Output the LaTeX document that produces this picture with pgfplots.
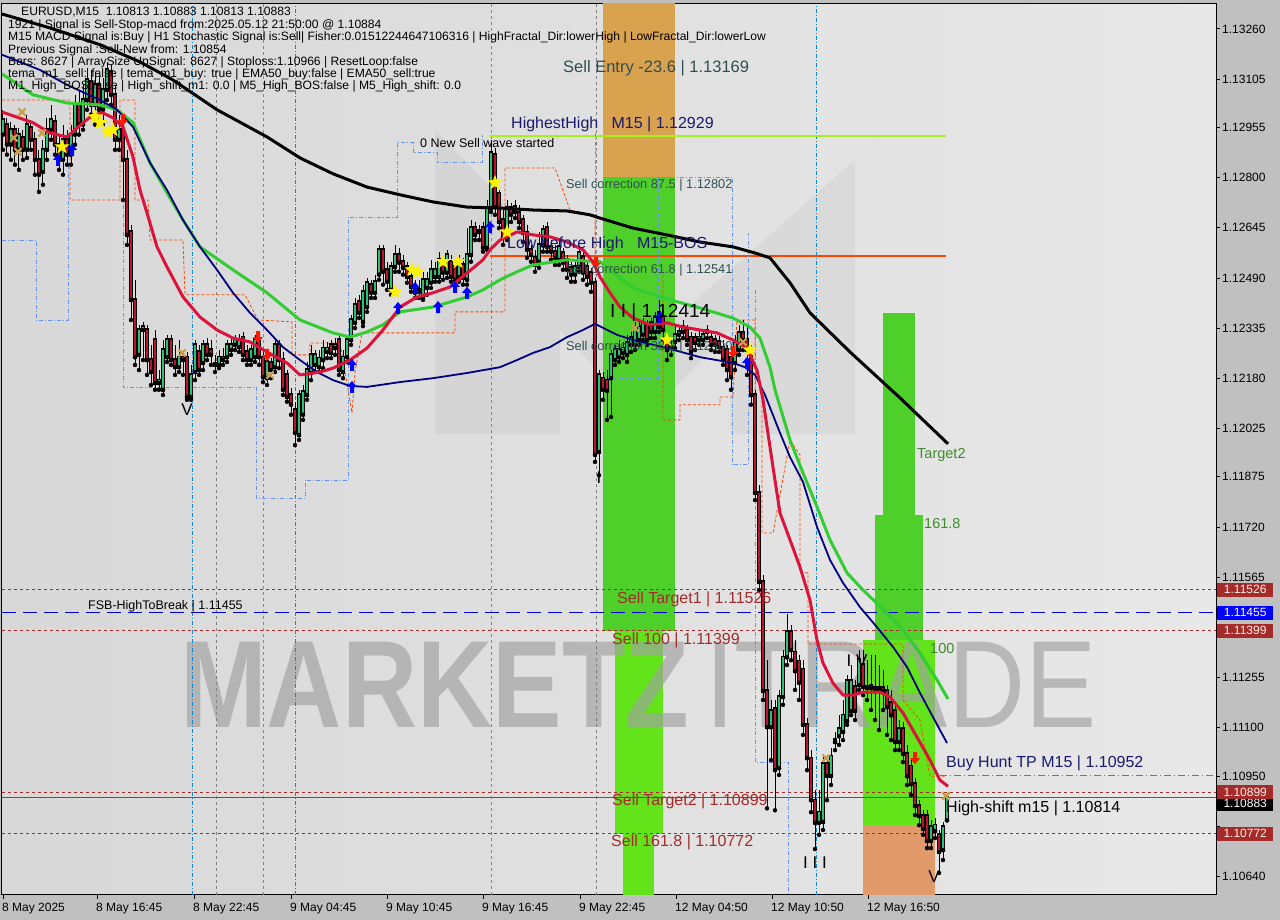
\documentclass[border=0pt]{standalone}
\usepackage{pgfplots}
\pgfplotsset{compat=1.18}
\usepackage{pgfplotstable}
\usepackage{fontspec}
\setmainfont{Liberation Sans}

\definecolor{panel}{HTML}{C0C0C0}
\definecolor{bgl}{HTML}{D8D8D8}
\definecolor{bgr}{HTML}{E8E8E8}
\definecolor{cgreen}{HTML}{2FBF71}
\definecolor{cred}{HTML}{B5172F}
\definecolor{emared}{HTML}{DC143C}
\definecolor{emagreen}{HTML}{32CD32}
\definecolor{emanavy}{HTML}{000080}
\definecolor{zgreen}{HTML}{4FCF2A}
\definecolor{zlime}{HTML}{62E31A}
\definecolor{zorange}{HTML}{D9A24E}
\definecolor{zsalmon}{HTML}{E39A6A}
\definecolor{lvl}{HTML}{A52A2A}
\definecolor{stepblue}{HTML}{6495ED}
\definecolor{steporange}{HTML}{FF4500}
\definecolor{hhigh}{HTML}{A6F01E}
\definecolor{slate}{HTML}{2F4F4F}
\definecolor{midnight}{HTML}{191970}
\definecolor{tgreen}{HTML}{3C8C28}
\definecolor{tanx}{HTML}{C8A04A}
\definecolor{wm}{HTML}{A0A0A0}

\newcommand{\fs}[1]{\fontsize{#1}{#1}\selectfont}

\pgfdeclareplotmark{fstar}{%
  \pgfpathmoveto{\pgfqpoint{0pt}{8pt}}%
  \pgfpathlineto{\pgfqpoint{-1.94pt}{2.67pt}}%
  \pgfpathlineto{\pgfqpoint{-7.61pt}{2.47pt}}%
  \pgfpathlineto{\pgfqpoint{-3.14pt}{-1.02pt}}%
  \pgfpathlineto{\pgfqpoint{-4.70pt}{-6.47pt}}%
  \pgfpathlineto{\pgfqpoint{0pt}{-3.3pt}}%
  \pgfpathlineto{\pgfqpoint{4.70pt}{-6.47pt}}%
  \pgfpathlineto{\pgfqpoint{3.14pt}{-1.02pt}}%
  \pgfpathlineto{\pgfqpoint{7.61pt}{2.47pt}}%
  \pgfpathlineto{\pgfqpoint{1.94pt}{2.67pt}}%
  \pgfpathclose\pgfusepathqfill}
\pgfdeclareplotmark{uparr}{%
  \pgfpathmoveto{\pgfqpoint{0pt}{6pt}}%
  \pgfpathlineto{\pgfqpoint{5pt}{0pt}}%
  \pgfpathlineto{\pgfqpoint{2pt}{0pt}}%
  \pgfpathlineto{\pgfqpoint{2pt}{-6pt}}%
  \pgfpathlineto{\pgfqpoint{-2pt}{-6pt}}%
  \pgfpathlineto{\pgfqpoint{-2pt}{0pt}}%
  \pgfpathlineto{\pgfqpoint{-5pt}{0pt}}%
  \pgfpathclose\pgfusepathqfill}
\pgfdeclareplotmark{dnarr}{%
  \pgfpathmoveto{\pgfqpoint{0pt}{-6pt}}%
  \pgfpathlineto{\pgfqpoint{5pt}{0pt}}%
  \pgfpathlineto{\pgfqpoint{2pt}{0pt}}%
  \pgfpathlineto{\pgfqpoint{2pt}{6pt}}%
  \pgfpathlineto{\pgfqpoint{-2pt}{6pt}}%
  \pgfpathlineto{\pgfqpoint{-2pt}{0pt}}%
  \pgfpathlineto{\pgfqpoint{-5pt}{0pt}}%
  \pgfpathclose\pgfusepathqfill}

\tikzset{tag/.style={anchor=west, inner sep=0pt, minimum width=56pt, minimum height=14pt, font=\fs{12}}}
\pgfplotsset{stepb/.style={color=stepblue, dash pattern=on 4pt off 2pt on 1pt off 2pt, line width=0.8pt},
             stepo/.style={color=steporange, dash pattern=on 3pt off 2pt, line width=0.8pt}}

% M15 candles: x = pixel column, open high low close
\pgfplotstableread{
x o h l c
3 1.12933 1.13010 1.12886 1.12979
7 1.12964 1.12985 1.12871 1.12902
11 1.12902 1.12973 1.12855 1.12948
15 1.12948 1.12964 1.12840 1.12886
19 1.12886 1.12954 1.12824 1.12933
23 1.12923 1.12948 1.12855 1.12886
27 1.12886 1.12995 1.12861 1.12964
31 1.12954 1.12979 1.12886 1.12917
35 1.12917 1.12942 1.12809 1.12855
39 1.12855 1.12886 1.12756 1.12809
43 1.12818 1.12917 1.12778 1.12886
47 1.12886 1.12985 1.12855 1.12948
51 1.12948 1.13025 1.12917 1.12979
55 1.12973 1.12995 1.12871 1.12902
59 1.12902 1.12933 1.12824 1.12855
63 1.12855 1.12964 1.12809 1.12917
67 1.12917 1.12948 1.12840 1.12871
71 1.12871 1.12964 1.12840 1.12933
75 1.12933 1.13056 1.12902 1.13025
79 1.13025 1.13071 1.12933 1.12964
83 1.12964 1.13087 1.12948 1.13040
87 1.13040 1.13139 1.13010 1.13102
91 1.13096 1.13133 1.12995 1.13025
95 1.13025 1.13127 1.12964 1.13087
99 1.13087 1.13118 1.12979 1.13010
103 1.13010 1.13108 1.12964 1.13071
107 1.13071 1.13158 1.13040 1.13133
111 1.13127 1.13149 1.13025 1.13056
115 1.13056 1.13087 1.12886 1.12917
119 1.12917 1.12995 1.12886 1.12948
123 1.12948 1.12979 1.12731 1.12855
127 1.12855 1.12886 1.12592 1.12623
131 1.12632 1.12654 1.12360 1.12422
135 1.12422 1.12484 1.12221 1.12245
139 1.12252 1.12345 1.12205 1.12329
143 1.12329 1.12354 1.12236 1.12338
147 1.12329 1.12345 1.12190 1.12236
151 1.12236 1.12283 1.12159 1.12199
155 1.12298 1.12329 1.12144 1.12165
159 1.12165 1.12205 1.12144 1.12174
163 1.12144 1.12298 1.12128 1.12267
167 1.12245 1.12314 1.12230 1.12298
171 1.12298 1.12314 1.12221 1.12236
175 1.12236 1.12283 1.12190 1.12214
179 1.12214 1.12298 1.12199 1.12245
183 1.12245 1.12267 1.12190 1.12236
187 1.12245 1.12261 1.12113 1.12122
191 1.12122 1.12221 1.12113 1.12190
195 1.12199 1.12298 1.12174 1.12283
199 1.12261 1.12283 1.12190 1.12205
203 1.12227 1.12298 1.12205 1.12283
207 1.12283 1.12304 1.12236 1.12252
211 1.12267 1.12298 1.12221 1.12252
215 1.12221 1.12252 1.12199 1.12224
219 1.12221 1.12267 1.12211 1.12245
223 1.12245 1.12273 1.12221 1.12236
227 1.12245 1.12298 1.12230 1.12283
231 1.12267 1.12304 1.12252 1.12283
235 1.12283 1.12314 1.12267 1.12298
239 1.12276 1.12317 1.12261 1.12298
243 1.12307 1.12323 1.12236 1.12252
247 1.12261 1.12283 1.12221 1.12236
251 1.12236 1.12283 1.12221 1.12267
255 1.12245 1.12314 1.12230 1.12298
259 1.12298 1.12314 1.12221 1.12245
263 1.12245 1.12267 1.12168 1.12183
267 1.12180 1.12252 1.12159 1.12230
271 1.12227 1.12242 1.12180 1.12205
275 1.12214 1.12298 1.12199 1.12283
279 1.12283 1.12298 1.12211 1.12236
283 1.12236 1.12261 1.12128 1.12144
287 1.12190 1.12205 1.12107 1.12122
291 1.12128 1.12150 1.12067 1.12098
295 1.12082 1.12107 1.11973 1.12011
299 1.12004 1.12144 1.11989 1.12128
303 1.12067 1.12159 1.12051 1.12138
307 1.12128 1.12230 1.12113 1.12205
311 1.12196 1.12283 1.12174 1.12252
315 1.12221 1.12267 1.12199 1.12252
319 1.12214 1.12267 1.12199 1.12242
323 1.12236 1.12298 1.12211 1.12273
327 1.12261 1.12292 1.12242 1.12273
331 1.12283 1.12298 1.12242 1.12258
335 1.12273 1.12304 1.12252 1.12283
339 1.12298 1.12314 1.12190 1.12205
343 1.12199 1.12267 1.12180 1.12245
347 1.12245 1.12314 1.12230 1.12298
351 1.12298 1.12376 1.12283 1.12360
355 1.12351 1.12428 1.12335 1.12407
359 1.12416 1.12437 1.12366 1.12382
363 1.12354 1.12469 1.12341 1.12447
367 1.12400 1.12490 1.12385 1.12475
371 1.12469 1.12484 1.12428 1.12444
375 1.12444 1.12500 1.12428 1.12478
379 1.12500 1.12592 1.12484 1.12577
383 1.12577 1.12592 1.12469 1.12509
387 1.12515 1.12540 1.12453 1.12478
391 1.12453 1.12540 1.12438 1.12524
395 1.12524 1.12592 1.12509 1.12561
399 1.12561 1.12583 1.12509 1.12537
403 1.12540 1.12561 1.12500 1.12521
407 1.12524 1.12540 1.12475 1.12493
411 1.12493 1.12515 1.12447 1.12462
415 1.12462 1.12484 1.12428 1.12444
419 1.12447 1.12484 1.12428 1.12453
423 1.12431 1.12509 1.12422 1.12484
427 1.12459 1.12509 1.12438 1.12484
431 1.12475 1.12546 1.12459 1.12515
435 1.12493 1.12540 1.12478 1.12515
439 1.12493 1.12571 1.12478 1.12546
443 1.12540 1.12552 1.12484 1.12506
447 1.12506 1.12577 1.12490 1.12561
451 1.12540 1.12561 1.12478 1.12493
455 1.12524 1.12540 1.12469 1.12484
459 1.12493 1.12561 1.12478 1.12540
463 1.12530 1.12552 1.12469 1.12490
467 1.12484 1.12645 1.12469 1.12561
471 1.12561 1.12669 1.12540 1.12645
475 1.12645 1.12663 1.12607 1.12623
479 1.12632 1.12654 1.12607 1.12635
483 1.12645 1.12663 1.12571 1.12583
487 1.12583 1.12731 1.12577 1.12706
491 1.12706 1.12917 1.12694 1.12877
495 1.12871 1.12892 1.12685 1.12709
499 1.12752 1.12762 1.12644 1.12663
503 1.12669 1.12700 1.12592 1.12616
507 1.12629 1.12731 1.12607 1.12706
511 1.12706 1.12722 1.12663 1.12685
515 1.12694 1.12731 1.12675 1.12709
519 1.12691 1.12716 1.12644 1.12663
523 1.12669 1.12685 1.12601 1.12629
527 1.12629 1.12654 1.12552 1.12577
531 1.12577 1.12592 1.12540 1.12561
535 1.12552 1.12577 1.12509 1.12530
539 1.12540 1.12632 1.12521 1.12592
543 1.12592 1.12654 1.12571 1.12638
547 1.12645 1.12663 1.12571 1.12586
551 1.12586 1.12607 1.12546 1.12571
555 1.12571 1.12592 1.12530 1.12552
559 1.12546 1.12607 1.12530 1.12586
563 1.12568 1.12583 1.12515 1.12537
567 1.12546 1.12561 1.12490 1.12515
571 1.12521 1.12540 1.12478 1.12500
575 1.12500 1.12546 1.12478 1.12524
579 1.12524 1.12583 1.12509 1.12568
583 1.12555 1.12577 1.12484 1.12506
587 1.12524 1.12540 1.12469 1.12493
591 1.12506 1.12521 1.12447 1.12475
595 1.12475 1.12490 1.11921 1.11943
599 1.11952 1.12205 1.11880 1.12190
603 1.12180 1.12199 1.12113 1.12144
607 1.12174 1.12205 1.12051 1.12141
611 1.12180 1.12267 1.12060 1.12252
615 1.12236 1.12283 1.12221 1.12267
619 1.12245 1.12298 1.12230 1.12267
623 1.12258 1.12292 1.12242 1.12273
627 1.12252 1.12314 1.12230 1.12289
631 1.12283 1.12329 1.12261 1.12304
635 1.12283 1.12354 1.12267 1.12329
639 1.12298 1.12360 1.12283 1.12338
643 1.12314 1.12366 1.12298 1.12351
647 1.12345 1.12360 1.12283 1.12298
651 1.12351 1.12366 1.12304 1.12323
655 1.12323 1.12385 1.12304 1.12366
659 1.12338 1.12422 1.12323 1.12382
663 1.12369 1.12391 1.12298 1.12329
667 1.12292 1.12314 1.12236 1.12267
671 1.12276 1.12298 1.12252 1.12279
675 1.12292 1.12345 1.12273 1.12314
679 1.12314 1.12345 1.12298 1.12323
683 1.12323 1.12360 1.12304 1.12338
687 1.12329 1.12345 1.12283 1.12298
691 1.12307 1.12323 1.12242 1.12261
695 1.12304 1.12320 1.12267 1.12289
699 1.12298 1.12329 1.12283 1.12307
703 1.12298 1.12329 1.12283 1.12314
707 1.12323 1.12345 1.12304 1.12326
711 1.12304 1.12323 1.12267 1.12283
715 1.12298 1.12314 1.12261 1.12283
719 1.12292 1.12311 1.12261 1.12276
723 1.12276 1.12298 1.12221 1.12236
727 1.12267 1.12283 1.12174 1.12205
731 1.12245 1.12267 1.12144 1.12183
735 1.12227 1.12314 1.12205 1.12289
739 1.12267 1.12345 1.12252 1.12320
743 1.12320 1.12360 1.12267 1.12298
747 1.12298 1.12345 1.12190 1.12267
751 1.12252 1.12283 1.12098 1.12128
755 1.12128 1.12144 1.11803 1.11825
759 1.11825 1.11849 1.11525 1.11550
763 1.11550 1.11572 1.11185 1.11213
767 1.11213 1.11308 1.10850 1.11101
771 1.11101 1.11185 1.10999 1.11151
775 1.11157 1.11185 1.10844 1.10968
779 1.10974 1.11216 1.10953 1.11194
783 1.11194 1.11339 1.11170 1.11317
787 1.11317 1.11451 1.11293 1.11395
791 1.11395 1.11417 1.11308 1.11339
795 1.11333 1.11370 1.11216 1.11274
799 1.11305 1.11324 1.11185 1.11238
803 1.11280 1.11308 1.11077 1.11108
807 1.11108 1.11129 1.10968 1.11005
811 1.11005 1.11030 1.10838 1.10875
815 1.10875 1.10906 1.10724 1.10805
819 1.10805 1.10906 1.10768 1.10838
823 1.10808 1.11015 1.10783 1.10987
827 1.10987 1.11015 1.10875 1.10950
831 1.10950 1.11036 1.10922 1.11011
835 1.11055 1.11086 1.11030 1.11061
839 1.11073 1.11138 1.11046 1.11095
843 1.11086 1.11185 1.11061 1.11138
847 1.11120 1.11262 1.11108 1.11244
851 1.11151 1.11293 1.11138 1.11244
855 1.11225 1.11247 1.11123 1.11151
859 1.11231 1.11339 1.11216 1.11311
863 1.11293 1.11339 1.11200 1.11225
867 1.11225 1.11308 1.11185 1.11222
871 1.11222 1.11324 1.11154 1.11228
875 1.11222 1.11324 1.11123 1.11216
879 1.11216 1.11293 1.11092 1.11222
883 1.11222 1.11277 1.11154 1.11213
887 1.11213 1.11231 1.11077 1.11163
891 1.11176 1.11216 1.11061 1.11138
895 1.11151 1.11169 1.11030 1.11055
899 1.11055 1.11123 1.11030 1.11095
903 1.11095 1.11117 1.10993 1.11018
907 1.11018 1.11046 1.10922 1.10949
911 1.10980 1.10999 1.10891 1.10925
915 1.10925 1.10943 1.10829 1.10857
919 1.10857 1.10875 1.10798 1.10826
923 1.10826 1.10844 1.10768 1.10786
927 1.10826 1.10844 1.10727 1.10749
931 1.10749 1.10814 1.10727 1.10792
935 1.10780 1.10820 1.10758 1.10798
939 1.10768 1.10783 1.10650 1.10715
943 1.10721 1.10808 1.10690 1.10792
947 1.10813 1.10883 1.10813 1.10883
}\candles

\begin{document}
\begin{tikzpicture}
\useasboundingbox (0,0) rectangle (1280pt,920pt);
\fill[panel] (0,0) rectangle (1280pt,920pt);
\begin{axis}[
  at={(2pt,25pt)}, anchor=south west,
  scale only axis, width=1214pt, height=891pt,
  xmin=2, xmax=1216, ymin=1.10582, ymax=1.13337,
  clip mode=individual,
  axis background/.style={left color=bgl, right color=bgr},
  axis line style={black, line width=1pt},
  xtick pos=left, ytick pos=right, tick align=outside,
  major tick length=4pt, tick style={black, line width=0.8pt},
  xtick={3,97,194,291,387,483,580,676,772,868},
  xticklabels={8 May 2025,8 May 16:45,8 May 22:45,9 May 04:45,9 May 10:45,9 May 16:45,9 May 22:45,12 May 04:50,12 May 10:50,12 May 16:50},
  ytick={1.10640,1.10795,1.10950,1.11100,1.11255,1.11410,1.11565,1.11720,1.11875,1.12025,1.12180,1.12335,1.12490,1.12645,1.12800,1.12955,1.13105,1.13260},
  yticklabels={1.10640,,1.10950,1.11100,1.11255,,1.11565,1.11720,1.11875,1.12025,1.12180,1.12335,1.12490,1.12645,1.12800,1.12955,1.13105,1.13260},
  ticklabel style={font=\fs{12}, text=black},
  xticklabel style={anchor=north west, inner sep=0pt, yshift=-4pt, xshift=-1pt},
  yticklabel style={anchor=west, inner sep=0pt, xshift=2pt},
]
% faint logo behind the price
\addplot[fill=black, fill opacity=0.04, draw=none] coordinates {(435,1.12007) (435,1.12948) (645,1.12283) (855,1.12855) (855,1.12007) (730,1.12007) (730,1.12329) (645,1.12051) (560,1.12329) (560,1.12007)} -- cycle;

% signal zones
\addplot[fill=zorange, draw=none] coordinates {(603,1.12802) (675,1.12802) (675,1.13340) (603,1.13340)} -- cycle;
\addplot[fill=zgreen, draw=none] coordinates {(603,1.11399) (675,1.11399) (675,1.12802) (603,1.12802)} -- cycle;
\addplot[fill=zlime, draw=none] coordinates {(615,1.10772) (663,1.10772) (663,1.11399) (615,1.11399)} -- cycle;
\addplot[fill=zlime, draw=none] coordinates {(623,1.10582) (654,1.10582) (654,1.10772) (623,1.10772)} -- cycle;
\addplot[fill=zgreen, draw=none] coordinates {(883,1.11757) (915,1.11757) (915,1.12382) (883,1.12382)} -- cycle;
\addplot[fill=zgreen, draw=none] coordinates {(875,1.11370) (923,1.11370) (923,1.11757) (875,1.11757)} -- cycle;
\addplot[fill=zlime, draw=none] coordinates {(863,1.10798) (935,1.10798) (935,1.11370) (863,1.11370)} -- cycle;
\addplot[fill=zsalmon, draw=none] coordinates {(863,1.10582) (935,1.10582) (935,1.10798) (863,1.10798)} -- cycle;

% watermark
\node[anchor=base west, inner sep=0pt, font=\fs{124}\bfseries, text=wm, opacity=0.65, xscale=0.84] at (axis cs:180,1.11101) {MARKETZ};
\node[anchor=base west, inner sep=0pt, font=\fs{124}, text=wm, opacity=0.65, xscale=0.86] at (axis cs:705,1.11101) {ITRADE};

% period separators
\addplot[color=cyan!70!blue, dash pattern=on 4pt off 2pt on 1pt off 2pt, line width=0.8pt] coordinates {(192,1.10582) (192,1.13337)};
\addplot[color=cyan!70!blue, dash pattern=on 4pt off 2pt on 1pt off 2pt, line width=0.8pt] coordinates {(295,1.10582) (295,1.13337)};
\addplot[color=cyan!70!blue, dash pattern=on 4pt off 2pt on 1pt off 2pt, line width=0.8pt] coordinates {(816,1.10582) (816,1.13337)};
\addplot[color=gray, dash pattern=on 3pt off 3pt, line width=0.8pt] coordinates {(216,1.10582) (216,1.13337)};
\addplot[color=gray, dash pattern=on 3pt off 3pt, line width=0.8pt] coordinates {(596,1.10582) (596,1.13337)};
\addplot[color=magenta!60!red!70, dash pattern=on 3pt off 3pt, line width=0.8pt] coordinates {(263,1.10582) (263,1.13337)};
\addplot[color=magenta!60!red!70, dash pattern=on 3pt off 3pt, line width=0.8pt] coordinates {(491,1.10582) (491,1.13337)};

% horizontal levels
\addplot[draw=hhigh, line width=1.5pt] coordinates {(490,1.12929) (946,1.12929)};
\addplot[draw=steporange, line width=1.4pt] coordinates {(490,1.12558) (946,1.12558)};
\addplot[draw=lvl, dash pattern=on 3pt off 3pt, line width=0.9pt] coordinates {(2,1.11526) (1216,1.11526)};
\addplot[draw=blue!80!black, dash pattern=on 14pt off 7pt, line width=1pt] coordinates {(2,1.11455) (1216,1.11455)};
\addplot[draw=lvl, dash pattern=on 3pt off 3pt, line width=0.9pt] coordinates {(2,1.11399) (1216,1.11399)};
\addplot[draw=steporange, dash pattern=on 7pt off 3pt on 1pt off 3pt, line width=0.9pt] coordinates {(940,1.10952) (1216,1.10952)};
\addplot[draw=lvl, dash pattern=on 3pt off 3pt, line width=0.9pt] coordinates {(2,1.10899) (1216,1.10899)};
\addplot[draw=gray!60!blue, line width=1pt] coordinates {(2,1.10883) (1216,1.10883)};
\addplot[draw=lvl, dash pattern=on 3pt off 3pt, line width=0.9pt] coordinates {(2,1.10772) (1216,1.10772)};

% fractal step lines
\addplot[stepb] coordinates {(2,1.12607) (36,1.12607) (36,1.12360) (68,1.12360) (68,1.12840)};
\addplot[stepb] coordinates {(123,1.12799) (123,1.12153) (256,1.12153) (256,1.11809) (305,1.11809) (305,1.11865) (348,1.11865) (348,1.12678) (397,1.12678) (397,1.12908) (413,1.12908) (413,1.12877) (437,1.12877) (437,1.12846) (482,1.12846) (482,1.12933)};
\addplot[stepb] coordinates {(595,1.12938) (595,1.12180) (658,1.12180) (658,1.12802) (732,1.12802) (732,1.11912) (748,1.11912) (748,1.12629)};
\addplot[stepb] coordinates {(755,1.12453) (755,1.10993) (788,1.10993) (788,1.10582)};
\addplot[stepo] coordinates {(2,1.13040) (70,1.13040) (70,1.12731) (120,1.12731) (120,1.13040) (135,1.13040) (135,1.12731) (148,1.12731) (150,1.12607) (183,1.12607) (185,1.12438) (245,1.12438) (258,1.12360) (292,1.12354) (292,1.12252) (310,1.12252) (310,1.12289) (340,1.12289) (345,1.12199) (352,1.12073) (355,1.12199) (362,1.12320) (455,1.12320) (455,1.12385) (505,1.12385) (505,1.12830) (555,1.12830) (570,1.12700) (595,1.12685) (595,1.12540)};
\addplot[stepo] coordinates {(663,1.12499) (663,1.12051) (680,1.12051) (680,1.12098) (720,1.12098) (720,1.12122) (733,1.12122) (737,1.12360) (755,1.12360) (755,1.12091)};
\addplot[stepo] coordinates {(762,1.12113) (762,1.11701) (773,1.11701) (790,1.11989) (800,1.11943) (800,1.11578) (808,1.11578) (808,1.11358) (903,1.11358) (903,1.11185) (920,1.11123) (930,1.10949) (945,1.10949)};

% candles: wicks, body outlines, bodies
\addplot[only marks, mark=none, error bars/.cd, y dir=plus, y explicit, error mark=none,
  error bar style={draw=black, line width=1pt}]
  table[x=x, y=l, y error expr=\thisrow{h}-\thisrow{l}] {\candles};
\addplot[only marks, mark=none, error bars/.cd, y dir=plus, y explicit, error mark=none,
  error bar style={draw=black, line width=3.2pt, line cap=rect}]
  table[x=x, y expr={min(\thisrow{o},\thisrow{c})}, y error expr={max(abs(\thisrow{c}-\thisrow{o}),0.00001)}] {\candles};
\addplot[only marks, mark=none, restrict expr to domain={\thisrow{c}-\thisrow{o}}{0.000001:1},
  error bars/.cd, y dir=plus, y explicit, error mark=none,
  error bar style={draw=cgreen, line width=1.4pt}]
  table[x=x, y expr={min(\thisrow{o},\thisrow{c})}, y error expr={abs(\thisrow{c}-\thisrow{o})}] {\candles};
\addplot[only marks, mark=none, restrict expr to domain={\thisrow{c}-\thisrow{o}}{-1:-0.000001},
  error bars/.cd, y dir=plus, y explicit, error mark=none,
  error bar style={draw=cred, line width=1.4pt}]
  table[x=x, y expr={min(\thisrow{o},\thisrow{c})}, y error expr={abs(\thisrow{c}-\thisrow{o})}] {\candles};

% moving averages
\addplot[color=black, line width=3pt, line join=round] coordinates {
(2,1.13306) (50,1.13263) (100,1.13211) (140,1.13158) (173,1.13102) (217,1.13010) (267,1.12926)
(300,1.12861) (333,1.12812) (367,1.12771) (400,1.12747) (433,1.12725) (467,1.12709) (500,1.12706)
(533,1.12700) (567,1.12697) (590,1.12685) (600,1.12675) (633,1.12644) (667,1.12623) (700,1.12601)
(733,1.12586) (755,1.12567) (770,1.12552) (790,1.12475) (810,1.12382) (850,1.12261) (900,1.12119) (948,1.11977)};
\addplot[color=emagreen, line width=3pt, line join=round] coordinates {
(2,1.13121) (33,1.13056) (67,1.13031) (100,1.13025) (117,1.13010) (133,1.12970) (150,1.12846)
(167,1.12753) (183,1.12669) (200,1.12586) (233,1.12515) (267,1.12444) (300,1.12360) (333,1.12320)
(350,1.12307) (367,1.12323) (383,1.12345) (400,1.12385) (433,1.12400) (467,1.12431) (483,1.12453)
(500,1.12484) (517,1.12509) (533,1.12530) (567,1.12546) (600,1.12540) (633,1.12459) (667,1.12425)
(700,1.12397) (733,1.12366) (750,1.12338) (760,1.12304) (770,1.12214) (775,1.12144) (790,1.11989)
(803,1.11887) (817,1.11782) (830,1.11680) (847,1.11578) (863,1.11525) (887,1.11454) (903,1.11401)
(920,1.11330) (937,1.11247) (948,1.11188)};
\addplot[color=emanavy, line width=1.8pt, line join=round] coordinates {
(2,1.13180) (40,1.13133) (67,1.13087) (100,1.13040) (117,1.13010) (133,1.12957) (150,1.12846)
(167,1.12762) (183,1.12669) (200,1.12586) (217,1.12515) (233,1.12444) (250,1.12382) (267,1.12329)
(283,1.12276) (300,1.12236) (317,1.12199) (333,1.12174) (350,1.12156) (367,1.12153) (400,1.12168)
(433,1.12180) (467,1.12196) (500,1.12214) (517,1.12236) (533,1.12258) (550,1.12276) (567,1.12307)
(583,1.12329) (595,1.12348) (617,1.12314) (633,1.12298) (667,1.12273) (700,1.12245) (733,1.12227)
(745,1.12214) (755,1.12190) (765,1.12128) (780,1.12011) (790,1.11936) (803,1.11859) (817,1.11720)
(830,1.11618) (843,1.11547) (860,1.11472) (877,1.11410) (893,1.11349) (907,1.11287) (920,1.11207)
(933,1.11132) (947,1.11052)};
\addplot[color=emared, line width=3pt, line join=round] coordinates {
(2,1.13003) (33,1.12970) (50,1.12938) (67,1.12926) (83,1.12970) (93,1.12994) (103,1.13000)
(113,1.12985) (123,1.12957) (133,1.12864) (140,1.12762) (147,1.12691) (157,1.12586) (167,1.12524)
(183,1.12431) (200,1.12369) (217,1.12329) (233,1.12304) (250,1.12292) (267,1.12261) (287,1.12227)
(300,1.12190) (320,1.12199) (333,1.12211) (350,1.12236) (367,1.12273) (383,1.12329) (400,1.12400)
(417,1.12431) (433,1.12444) (450,1.12462) (467,1.12505) (483,1.12546) (490,1.12577) (500,1.12607)
(517,1.12632) (533,1.12623) (550,1.12617) (567,1.12601) (583,1.12577) (593,1.12540) (600,1.12493)
(610,1.12444) (620,1.12400) (633,1.12366) (650,1.12345) (667,1.12351) (683,1.12338) (700,1.12329)
(717,1.12320) (733,1.12298) (745,1.12276) (750,1.12252) (757,1.12205) (763,1.12113) (773,1.11905)
(780,1.11763) (790,1.11680) (800,1.11596) (810,1.11494) (817,1.11370) (823,1.11299) (833,1.11237)
(843,1.11200) (853,1.11200) (863,1.11209) (880,1.11209) (890,1.11194) (903,1.11145) (917,1.11070)
(930,1.10999) (940,1.10937) (948,1.10918)};

% signal marks
\addplot[only marks, mark=fstar, color=yellow, mark options={fill=yellow}] coordinates {
(62,1.12895) (95,1.12988) (100,1.12970) (108,1.12942) (113,1.12948) (395,1.12447) (412,1.12515)
(418,1.12509) (443,1.12540) (458,1.12540) (495,1.12784) (507,1.12632) (667,1.12298) (750,1.12267)};
\addplot[only marks, mark=uparr, color=blue, mark options={fill=blue}] coordinates {
(58,1.12855) (72,1.12886) (352,1.12221) (352,1.12153) (398,1.12397) (415,1.12459) (438,1.12400)
(455,1.12462) (467,1.12444) (490,1.12647) (660,1.12369) (747,1.12227)};
\addplot[only marks, mark=x, mark size=5pt, color=tanx, mark options={line width=2.2pt}] coordinates {
(14,1.12923) (18,1.12880) (22,1.13003) (42,1.12938) (182,1.12258) (270,1.12190) (635,1.12335)
(743,1.12292) (826,1.11005) (946,1.10888)};
\addplot[only marks, mark=dnarr, color=red!80!orange, mark options={fill=red!80!orange}] coordinates {
(123,1.12979) (258,1.12307) (267,1.12252) (733,1.12261) (915,1.11005) (596,1.12537)};

% level labels
\node[anchor=west, inner sep=0pt, font=\fs{16.5}, text=slate] at (axis cs:563,1.13139) {Sell Entry -23.6 | 1.13169};
\node[anchor=west, inner sep=0pt, font=\fs{16}, text=midnight] at (axis cs:511,1.12966) {HighestHigh\ \ \ M15 | 1.12929};
\node[anchor=west, inner sep=0pt, font=\fs{12.5}, text=black] at (axis cs:420,1.12908) {0 New Sell wave started};
\node[anchor=west, inner sep=0pt, font=\fs{12.8}, text=slate] at (axis cs:566,1.12777) {Sell correction 87.5 | 1.12802};
\node[anchor=west, inner sep=0pt, font=\fs{16}, text=midnight] at (axis cs:507,1.12595) {Low before High\ \ \ M15-BOS};
\node[anchor=west, inner sep=0pt, font=\fs{12.8}, text=slate] at (axis cs:566,1.12515) {Sell correction 61.8 | 1.12541};
\node[anchor=west, inner sep=0pt, font=\fs{19}, text=black] at (axis cs:610,1.12382) {I I | 1.12414};
\node[anchor=west, inner sep=0pt, font=\fs{12.8}, text=slate] at (axis cs:566,1.12276) {Sell correction 38.2 | 1.12300};
\node[anchor=west, inner sep=0pt, font=\fs{12.5}, text=black] at (axis cs:88,1.11476) {FSB-HighToBreak | 1.11455};
\node[anchor=west, inner sep=0pt, font=\fs{16}, text=lvl] at (axis cs:617,1.11497) {Sell Target1 | 1.11526};
\node[anchor=west, inner sep=0pt, font=\fs{16}, text=lvl] at (axis cs:612,1.11370) {Sell 100 | 1.11399};
\node[anchor=west, inner sep=0pt, font=\fs{16}, text=lvl] at (axis cs:612,1.10872) {Sell Target2 | 1.10899};
\node[anchor=west, inner sep=0pt, font=\fs{16}, text=lvl] at (axis cs:611,1.10745) {Sell 161.8 | 1.10772};
\node[anchor=west, inner sep=0pt, font=\fs{16}, text=midnight] at (axis cs:946,1.10990) {Buy Hunt TP M15 | 1.10952};
\node[anchor=west, inner sep=0pt, font=\fs{16}, text=black] at (axis cs:946,1.10851) {High-shift m15 | 1.10814};
\node[anchor=west, inner sep=0pt, font=\fs{14.5}, text=tgreen] at (axis cs:917,1.11943) {Target2};
\node[anchor=west, inner sep=0pt, font=\fs{14.5}, text=tgreen] at (axis cs:924,1.11732) {161.8};
\node[anchor=west, inner sep=0pt, font=\fs{14.5}, text=tgreen] at (axis cs:930,1.11345) {100};
% wave marks
\node[font=\fs{17}, inner sep=0pt] at (axis cs:187,1.12082) {V};
\node[font=\fs{17}, inner sep=0pt] at (axis cs:599,1.11871) {I};
\node[font=\fs{17}, inner sep=0pt] at (axis cs:815,1.10683) {I I I};
\node[font=\fs{17}, inner sep=0pt] at (axis cs:857,1.11308) {I V};
\node[font=\fs{17}, inner sep=0pt] at (axis cs:934,1.10640) {V};

% price tags on the scale
\node[tag, fill=lvl, text=white!90!orange] at (axis cs:1217,1.11526) {1.11526};
\node[tag, fill=blue, text=white] at (axis cs:1217,1.11455) {1.11455};
\node[tag, fill=lvl, text=white!90!orange] at (axis cs:1217,1.11399) {1.11399};
\node[tag, fill=black, text=white] at (axis cs:1217,1.10864) {1.10883};
\node[tag, fill=lvl, text=white!90!orange] at (axis cs:1217,1.10899) {1.10899};
\node[tag, fill=lvl, text=white!90!orange] at (axis cs:1217,1.10772) {1.10772};
\end{axis}

% header lines
\begin{scope}[every node/.style={anchor=base west, inner sep=0pt, font=\fs{12.1}}]
\node at (21pt,904pt) {EURUSD,M15\ \ 1.10813 1.10883 1.10813 1.10883};
\node at (8pt,891pt) {1921 | Signal is Sell-Stop-macd from:2025.05.12 21:50:00 @ 1.10884};
\node at (8pt,879pt) {M15 MACD Signal is:Buy | H1 Stochastic Signal is:Sell| Fisher:0.01512244647106316 | HighFractal\_Dir:lowerHigh | LowFractal\_Dir:lowerLow};
\node at (8pt,866pt) {Previous Signal :Sell-New from: 1.10854};
\node at (8pt,854pt) {Bars: 8627 | ArraySize UpSignal: 8627 | Stoploss:1.10966 | ResetLoop:false};
\node at (8pt,842pt) {tema\_m1\_sell: false | tema\_m1\_buy: true | EMA50\_buy:false | EMA50\_sell:true};
\node at (8pt,830pt) {M1\_High\_BOS:false | High\_shift\_m1: 0.0 | M5\_High\_BOS:false | M5\_High\_shift: 0.0};
\end{scope}
\end{tikzpicture}
\end{document}
